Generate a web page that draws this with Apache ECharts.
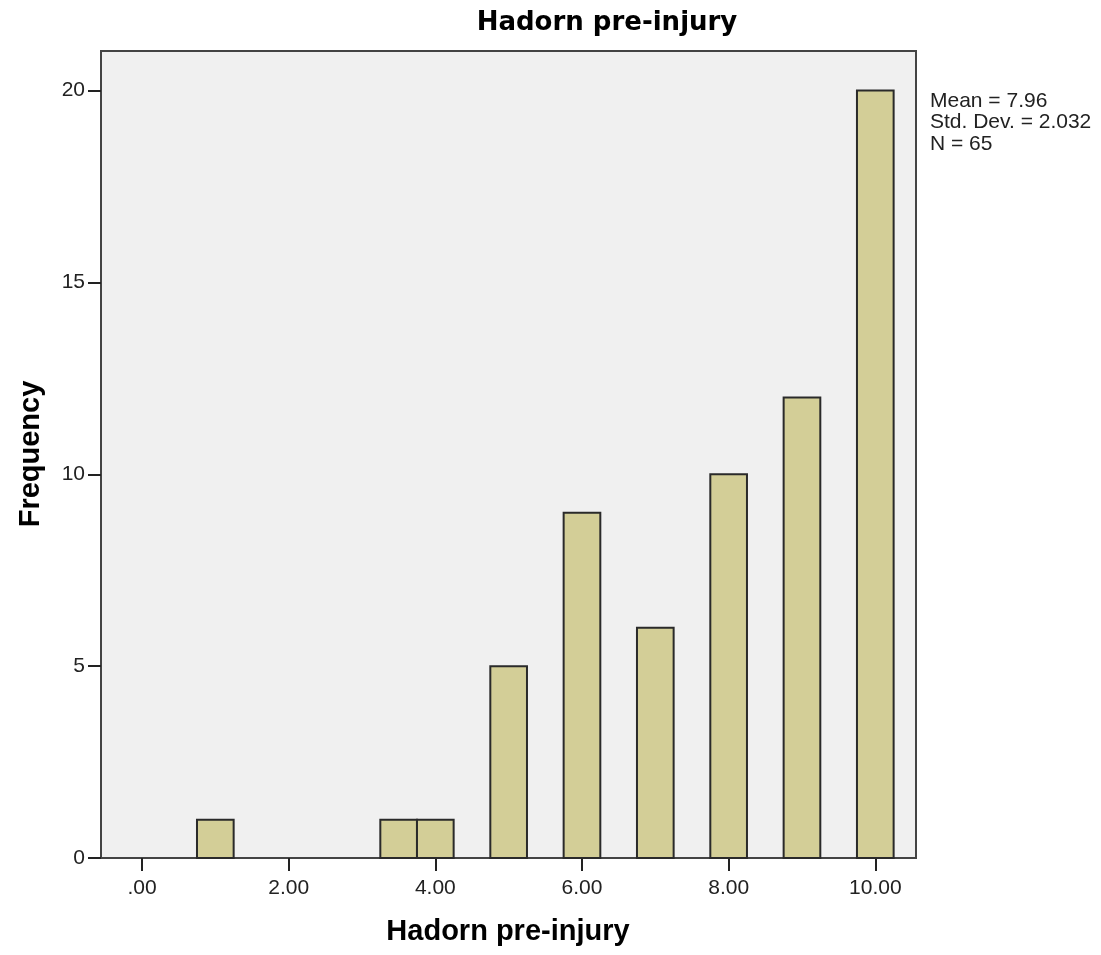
<!DOCTYPE html>
<html>
<head>
<meta charset="utf-8">
<script src="https://cdn.jsdelivr.net/npm/echarts@6/dist/echarts.min.js"></script>
<style>
html,body{margin:0;padding:0;background:#fff;}
#chart{width:1101px;height:955px;}
</style>
</head>
<body>
<div id="chart"></div>
<script>
// Data
const binCenters = [1, 3.5, 4, 5, 6, 7, 8, 9, 10];
const frequencies = [1, 1, 1, 5, 9, 6, 10, 12, 20];
const binWidth = 0.5;
const xTicks = [0, 2, 4, 6, 8, 10];
const yTicks = [0, 5, 10, 15, 20];
const titleText = 'Hadorn pre-injury';
const xAxisTitle = 'Hadorn pre-injury';
const yAxisTitle = 'Frequency';
const statsLines = ['Mean = 7.96', 'Std. Dev. = 2.032', 'N = 65'];

const chart = echarts.init(document.getElementById('chart'), null, {renderer: 'canvas'});
const axisColor = '#444';
const labelFont = 'Liberation Sans, Arial, sans-serif';

const option = {
  animation: false,
  backgroundColor: '#fff',
  grid: {
    left: 101, right: 185, top: 51, bottom: 97,
    show: true, backgroundColor: '#f0f0f0', borderColor: axisColor, borderWidth: 2
  },
  xAxis: {
    type: 'value', min: -0.559, max: 10.555,
    axisLine: {show: true, onZero: false, lineStyle: {color: axisColor, width: 2}},
    axisTick: {show: true, length: 13, customValues: xTicks, lineStyle: {color: '#222', width: 2}},
    axisLabel: {customValues: xTicks, margin: 20, color: '#222', fontSize: 21, fontFamily: labelFont,
      formatter: v => v === 0 ? '.00' : v.toFixed(2)},
    splitLine: {show: false}
  },
  yAxis: {
    type: 'value', min: 0, max: 21.03,
    axisLine: {show: true, onZero: false, lineStyle: {color: axisColor, width: 2}},
    axisTick: {show: true, length: 13, customValues: yTicks, lineStyle: {color: '#222', width: 2}},
    axisLabel: {customValues: yTicks, margin: 16, color: '#222', fontSize: 21, fontFamily: labelFont},
    splitLine: {show: false}
  },
  series: [{
    type: 'custom',
    data: binCenters.map((c, i) => [c, frequencies[i]]),
    renderItem: function (params, api) {
      const c = api.value(0), f = api.value(1);
      const p0 = api.coord([c - binWidth / 2, f]);
      const p1 = api.coord([c + binWidth / 2, 0]);
      return {
        type: 'rect',
        shape: {x: p0[0], y: p0[1], width: p1[0] - p0[0], height: p1[1] - p0[1]},
        style: {fill: '#d3ce97', stroke: '#2a2a2a', lineWidth: 2}
      };
    }
  }],
  graphic: [
    {type: 'text', x: 607, y: 23, style: {text: titleText, font: 'bold 26px "DejaVu Sans", sans-serif', fill: '#000', align: 'center', verticalAlign: 'middle'}},
    {type: 'text', x: 508, y: 932, style: {text: xAxisTitle, font: 'bold 29px "Liberation Sans", Arial, sans-serif', fill: '#000', align: 'center', verticalAlign: 'middle'}},
    {type: 'text', x: 31, y: 454, rotation: Math.PI / 2, style: {text: yAxisTitle, font: 'bold 29px "Liberation Sans", Arial, sans-serif', fill: '#000', align: 'center', verticalAlign: 'middle'}},
    {type: 'text', x: 930, y: 101, style: {text: statsLines[0], font: '21px "Liberation Sans", Arial, sans-serif', fill: '#222', align: 'left', verticalAlign: 'middle'}},
    {type: 'text', x: 930, y: 122.5, style: {text: statsLines[1], font: '21px "Liberation Sans", Arial, sans-serif', fill: '#222', align: 'left', verticalAlign: 'middle'}},
    {type: 'text', x: 930, y: 144, style: {text: statsLines[2], font: '21px "Liberation Sans", Arial, sans-serif', fill: '#222', align: 'left', verticalAlign: 'middle'}}
  ]
};
chart.setOption(option);
</script>
</body>
</html>
